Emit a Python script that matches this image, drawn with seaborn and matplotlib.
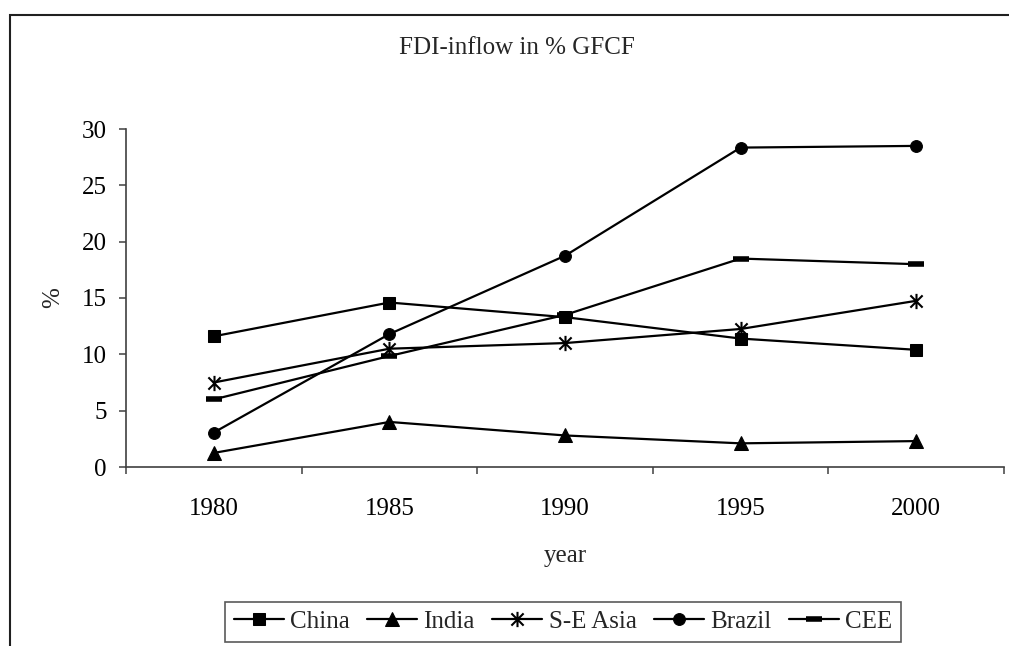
import matplotlib
matplotlib.use("Agg")
import matplotlib.pyplot as plt
from matplotlib.patches import Rectangle
from matplotlib.path import Path
from matplotlib.ticker import FixedLocator
import seaborn as sns
import pandas as pd

years = ["1980", "1985", "1990", "1995", "2000"]
china = [11.6, 14.6, 13.3, 11.4, 10.4]
india = [1.25, 4.0, 2.8, 2.1, 2.3]
se_asia = [7.5, 10.5, 11.0, 12.25, 14.75]
brazil = [3.06, 11.8, 18.75, 28.35, 28.5]
cee = [6.0, 9.85, 13.5, 18.5, 18.0]
series_names = ["China", "India", "S-E Asia", "Brazil", "CEE"]

sns.set_theme(style="ticks")
plt.rcParams["font.family"] = ["Liberation Serif", "DejaVu Serif"]

FS = 18
W, H = 1009, 646
fig = plt.figure(figsize=(W / 100, H / 100), dpi=100)
ax = fig.add_axes([126 / W, 1 - 467 / H, (1004 - 126) / W, (467 - 129) / H])

star = Path([(0, -1), (0, 1), (-0.8, -0.8), (0.8, 0.8), (-0.8, 0.8), (0.8, -0.8)],
            [Path.MOVETO, Path.LINETO, Path.MOVETO, Path.LINETO, Path.MOVETO, Path.LINETO])

values = [china, india, se_asia, brazil, cee]
styles = {
    "China": dict(marker="s", markersize=8),
    "India": dict(marker="^", markersize=9.5),
    "S-E Asia": dict(marker=star, markersize=11, markeredgewidth=1.5),
    "Brazil": dict(marker="o", markersize=8.5),
    "CEE": dict(marker="_", markersize=11, markeredgewidth=4),
}
for name, vals in zip(series_names, values):
    df = pd.DataFrame({"x": range(len(years)), "y": vals})
    sns.lineplot(data=df, x="x", y="y", ax=ax, color="black", linewidth=1.6,
                 label=name, markeredgecolor="black", markerfacecolor="black",
                 **styles[name])

ax.set_xlim(-0.5, len(years) - 0.5)
ax.set_ylim(0, 30)
ax.set_yticks([0, 5, 10, 15, 20, 25, 30])
ax.set_xticks(range(len(years)))
ax.set_xticklabels(years)
ax.xaxis.set_minor_locator(FixedLocator([i - 0.5 for i in range(len(years) + 1)]))

axis_col = "#404040"
for s in ["top", "right"]:
    ax.spines[s].set_visible(False)
for s in ["left", "bottom"]:
    ax.spines[s].set_color(axis_col)
    ax.spines[s].set_linewidth(1.2)

ax.tick_params(axis="y", direction="out", length=5, width=1.1, color=axis_col,
               labelsize=FS, pad=9, labelcolor="black")
ax.tick_params(axis="x", which="major", length=0, labelsize=FS, pad=22,
               labelcolor="black")
ax.tick_params(axis="x", which="minor", direction="out", length=5, width=1.1,
               color=axis_col)

ax.set_xlabel("year", fontsize=FS)
ax.set_ylabel("%", fontsize=FS)
ax.xaxis.set_label_coords(0.5, (467 - 545) / 338)
ax.yaxis.set_label_coords((64 - 126) / 878, 0.5)

fig.text(517 / W, 1 - 48 / H, "FDI-inflow in % GFCF", ha="center", va="center",
         fontsize=FS)

handles, labels = ax.get_legend_handles_labels()
ax.get_legend().remove()
leg = fig.legend(handles, labels, loc="center", ncol=5,
                 bbox_to_anchor=((224 + 902) / 2 / W, 1 - (599 + 644) / 2 / H),
                 fontsize=FS, frameon=True, fancybox=False, edgecolor="#303030",
                 handlelength=2.0, handletextpad=0.25, columnspacing=0.7,
                 borderpad=0.35, borderaxespad=0)
leg.get_frame().set_linewidth(1.2)

fig.add_artist(Rectangle((10 / W, -0.2), 1.5, (1 - 15 / H) + 0.2,
                         transform=fig.transFigure, fill=False,
                         edgecolor="#202020", linewidth=1.5))

fig.savefig("out.png", dpi=100, facecolor="white")
